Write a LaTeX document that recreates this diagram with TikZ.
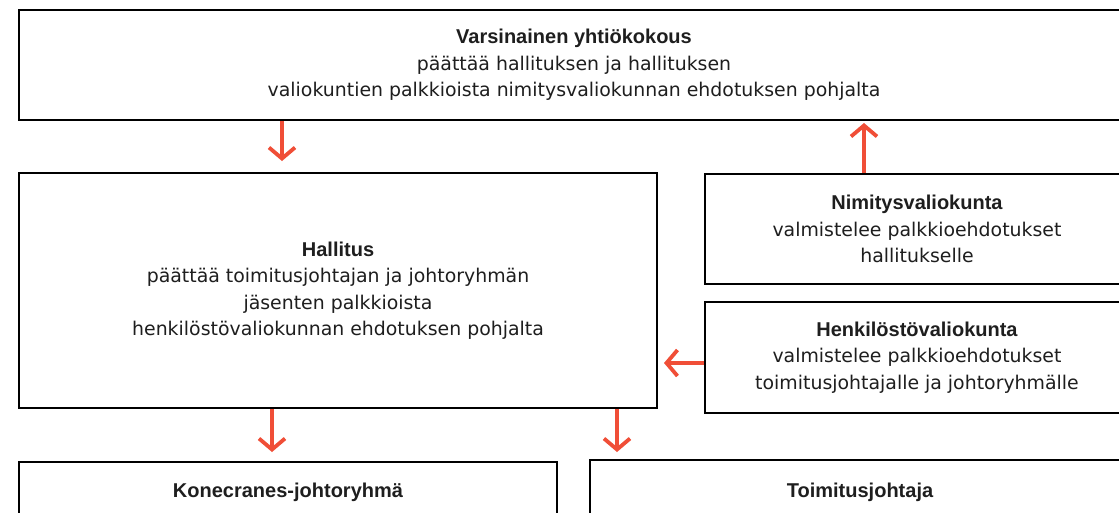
\documentclass[tikz,border=0pt]{standalone}
\usepackage{fontspec}
\setmainfont{DejaVu Sans}
\newfontfamily\hdfont{Liberation Sans}
\newcommand{\hd}[1]{{\hdfont\bfseries\fontsize{20}{26.5}\selectfont #1}}
\usetikzlibrary{arrows.meta}
\definecolor{arr}{HTML}{F04E37}
\definecolor{txt}{HTML}{1E1E1E}
\begin{document}
\begin{tikzpicture}[x=1pt,y=-1pt,
  box/.style={draw=black,line width=2.8pt,rectangle,align=center,inner sep=0pt,
    font=\fontsize{18.9}{26.5}\selectfont,text=txt},
  flow/.style={draw=arr,line width=3.8pt,-{Straight Barb[length=11pt,width=26pt]}}]
\useasboundingbox (0,0) rectangle (1119,512);
\clip (0,0) rectangle (1119,512);
\fill[white] (0,0) rectangle (1119,512);
\node[box,minimum width=1110pt,minimum height=110pt] (yk) at (574,65)
  {\hd{Varsinainen yhtiökokous}\\päättää hallituksen ja hallituksen\\valiokuntien palkkioista nimitysvaliokunnan ehdotuksen pohjalta};
\node[box,minimum width=638pt,minimum height=235pt] (hal) at (338,290.5)
  {\hd{Hallitus}\\päättää toimitusjohtajan ja johtoryhmän\\jäsenten palkkioista\\henkilöstövaliokunnan ehdotuksen pohjalta};
\node[box,minimum width=424pt,minimum height=110pt] (nim) at (917,229)
  {\hd{Nimitysvaliokunta}\\valmistelee palkkioehdotukset\\hallitukselle};
\node[box,minimum width=424pt,minimum height=111pt] (hen) at (917,357.5)
  {\hd{Henkilöstövaliokunta}\\valmistelee palkkioehdotukset\\toimitusjohtajalle ja johtoryhmälle};
\node[box,minimum width=538pt,minimum height=60pt] (kj) at (288,492)
  {\hd{Konecranes-johtoryhmä}};
\node[box,minimum width=540pt,minimum height=64pt] (tj) at (860,492)
  {\hd{Toimitusjohtaja}};
\coordinate (a1) at (282,161);
\coordinate (a2) at (864,123);
\coordinate (a3) at (664,363);
\coordinate (a4) at (272,452);
\coordinate (a5) at (617,452);
\draw[flow] (yk.south -| a1) -- (a1);
\draw[flow] (nim.north -| a2) -- (a2);
\draw[flow] (hen.west |- a3) -- (a3);
\draw[flow] (hal.south -| a4) -- (a4);
\draw[flow] (hal.south -| a5) -- (a5);
\end{tikzpicture}
\end{document}
